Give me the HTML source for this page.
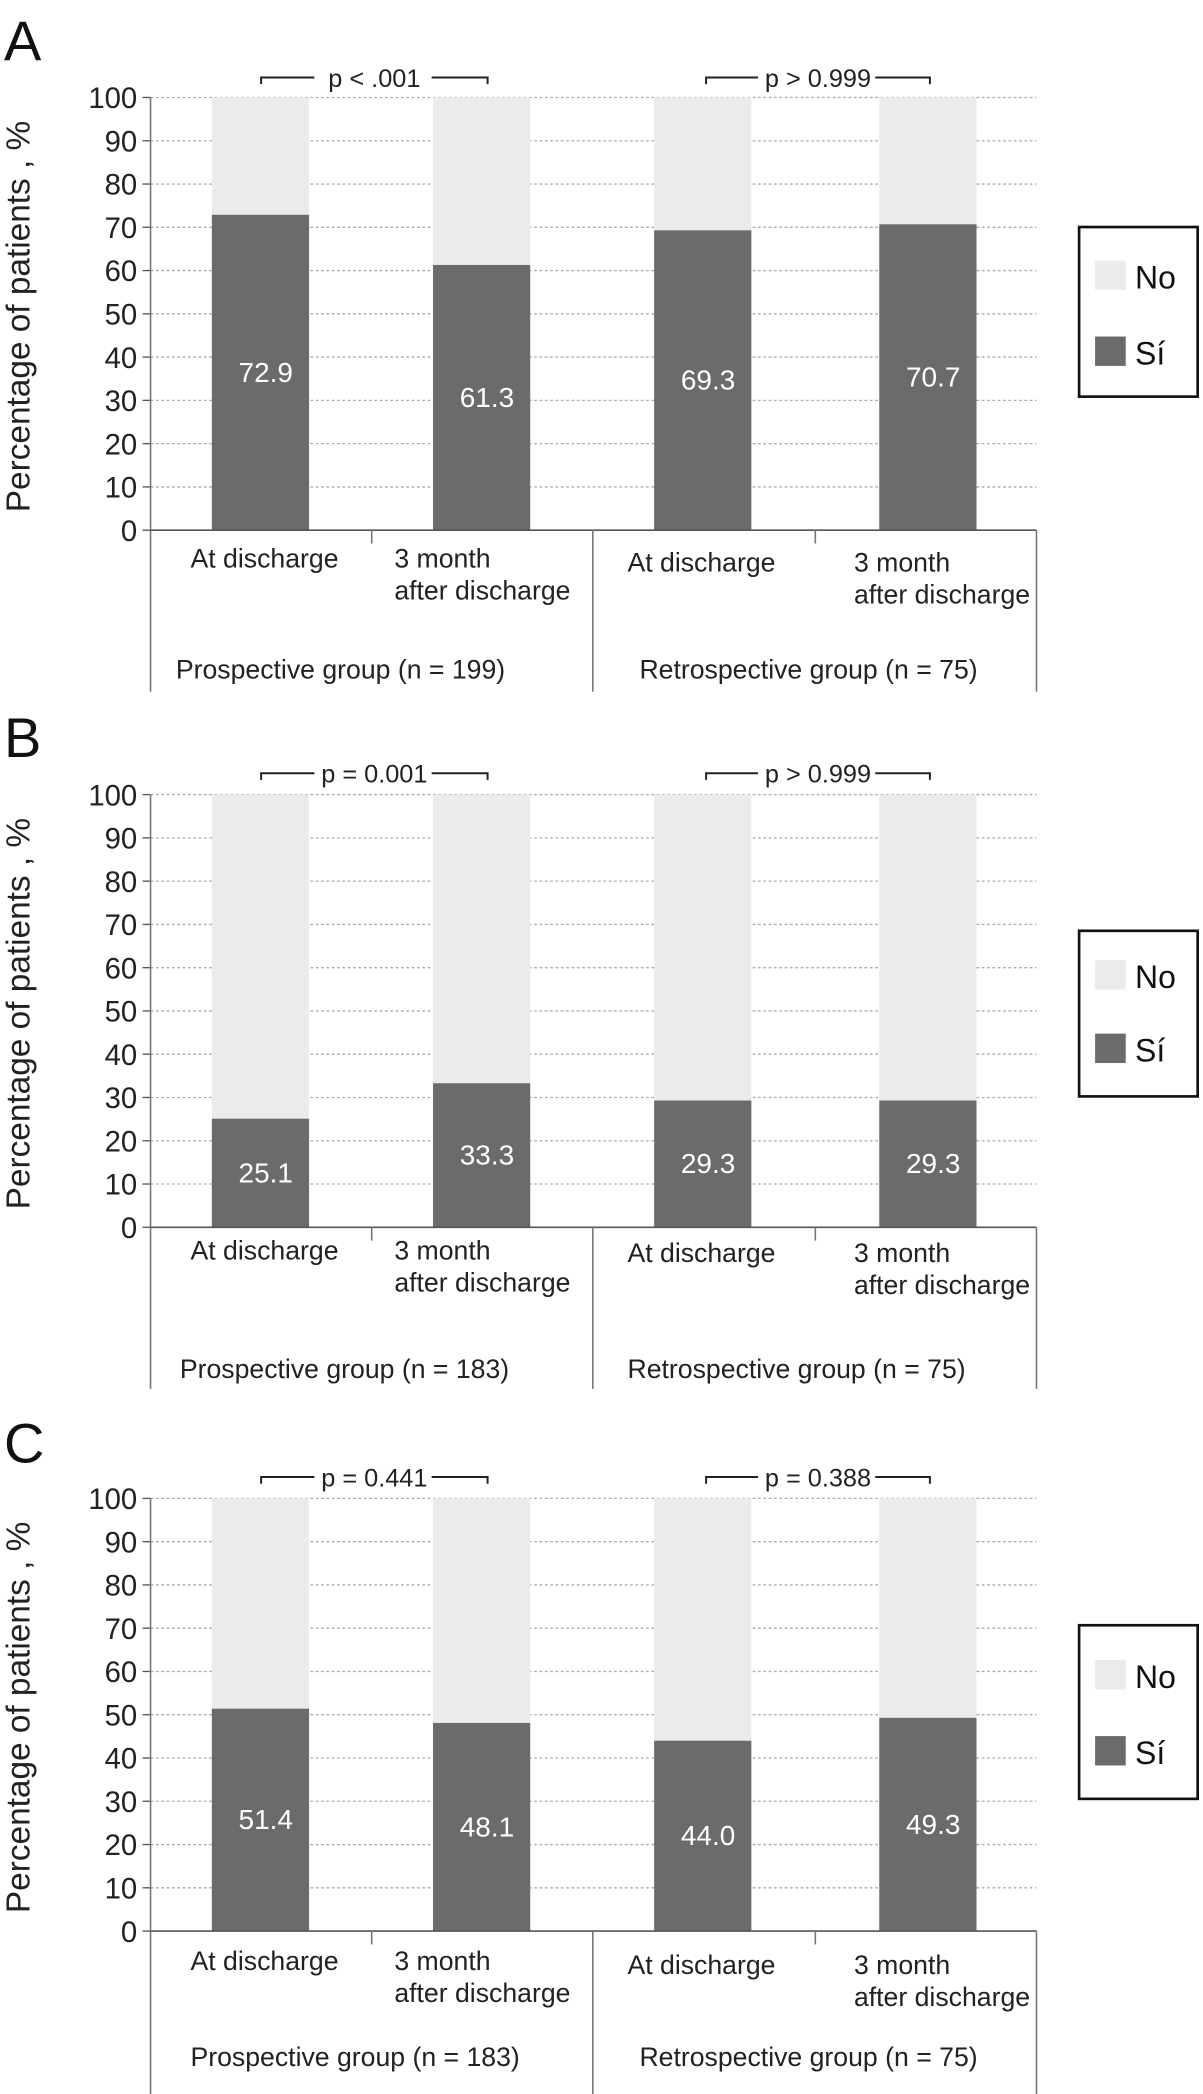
<!DOCTYPE html>
<html><head><meta charset="utf-8"><style>
html,body{margin:0;padding:0;background:#fff;}
svg{display:block;font-family:"Liberation Sans",sans-serif;}
</style></head><body>
<svg id="chart" width="1203" height="2094" viewBox="0 0 903 1568" preserveAspectRatio="none" xmlns="http://www.w3.org/2000/svg"></svg>
<script>
const categories = ["At discharge", "3 month|after discharge", "At discharge", "3 month|after discharge"];
const groupLabelsA = ["Prospective group (n = 199)", "Retrospective group (n = 75)"];
const groupLabelsB = ["Prospective group (n = 183)", "Retrospective group (n = 75)"];
const groupLabelsC = ["Prospective group (n = 183)", "Retrospective group (n = 75)"];
const valuesA = [72.9, 61.3, 69.3, 70.7];
const valuesB = [25.1, 33.3, 29.3, 29.3];
const valuesC = [51.4, 48.1, 44.0, 49.3];
const pValuesA = ["p < .001", "p > 0.999"];
const pValuesB = ["p = 0.001", "p > 0.999"];
const pValuesC = ["p = 0.441", "p = 0.388"];
const yTicks = [0, 10, 20, 30, 40, 50, 60, 70, 80, 90, 100];
const legendLabels = ["No", "Sí"];

const NS = "http://www.w3.org/2000/svg";
const svg = document.getElementById("chart");
function mk(tag, attrs, parent) {
  const e = document.createElementNS(NS, tag);
  for (const k in attrs) e.setAttribute(k, attrs[k]);
  (parent || svg).appendChild(e);
  return e;
}
function txt(s, attrs, parent) { const t = mk("text", attrs, parent); t.textContent = s; return t; }

const panels = [
  {letter:"A", vals:valuesA, groups:groupLabelsA, p:pValuesA, top:73, bottom:397, letterY:45, pY:58, catY:[418,418,421,421], groupY:501, frameBottom:518, legTop:170, legBot:297, sq:[195,252]},
  {letter:"B", vals:valuesB, groups:groupLabelsB, p:pValuesB, top:595, bottom:919, letterY:567, pY:579, catY:[936,936,938,938], groupY:1025, frameBottom:1040, legTop:697, legBot:821, sq:[719,774]},
  {letter:"C", vals:valuesC, groups:groupLabelsC, p:pValuesC, top:1122, bottom:1446, letterY:1095, pY:1106, catY:[1468,1468,1471,1471], groupY:1540, frameBottom:1568, legTop:1217, legBot:1347, sq:[1243,1300]}
];
const barX = [159, 325, 491, 660], barW = 73;
const axisX = 113, rightX = 778;
const catX = [[143,null],[296,null],[471,null],[641,null]];

panels.forEach((P, pi) => {
  const g = mk("g", {});
  
  
  const y = v => P.bottom - (v / 100) * (P.bottom - P.top);
  const l = txt(P.letter, {x:3, y:P.letterY, "font-size":42, fill:"#111"}, g);
  
  
  yTicks.forEach(t => {
    if (t > 0) {
      const gl = mk("line", {x1:axisX, x2:rightX, y1:y(t), y2:y(t), stroke:"#aaa", "stroke-width":1, "stroke-dasharray":"2,2"}, g);
      
      
    }
    mk("line", {x1:axisX-6, x2:axisX, y1:y(t), y2:y(t), stroke:"#555", "stroke-width":1}, g);
    const tl = txt(String(t), {x:axisX-10, y:y(t)+8, "font-size":22, "text-anchor":"end", fill:"#222"}, g);
    
    
  });
  const yt = txt("Percentage of patients , %", {x:0, y:0, "font-size":25, "text-anchor":"middle", fill:"#222", transform:`translate(22,${(P.top+P.bottom)/2 + 2}) rotate(-90)`}, g);
  
  
  P.vals.forEach((v, i) => {
    const nb = mk("rect", {x:barX[i], y:y(100), width:barW, height:y(v)-y(100), fill:"#ebebeb"}, g);
    
    
    const sb = mk("rect", {x:barX[i], y:y(v), width:barW, height:y(0)-y(v), fill:"#6b6b6b"}, g);
    
    
    const vl = txt(v.toFixed(1), {x:barX[i]+barW/2+4, y:y(v/2)+7, "font-size":21, "text-anchor":"middle", fill:"#fff"}, g);
    
    
    const parts = categories[i].split("|");
    parts.forEach((s, k) => {
      const cl = txt(s, {x:catX[i][0], y:P.catY[i]+7+k*24, "font-size":20, fill:"#222"}, g);
      
      
    });
  });
  mk("line", {x1:axisX, x2:axisX, y1:P.top, y2:P.frameBottom, stroke:"#777", "stroke-width":1.2}, g);
  mk("line", {x1:axisX, x2:rightX, y1:P.bottom, y2:P.bottom, stroke:"#555", "stroke-width":1.2}, g);
  mk("line", {x1:445, x2:445, y1:P.bottom, y2:P.frameBottom, stroke:"#777", "stroke-width":1.2}, g);
  mk("line", {x1:rightX, x2:rightX, y1:P.bottom, y2:P.frameBottom, stroke:"#777", "stroke-width":1.2}, g);
  [279, 612].forEach(x => mk("line", {x1:x, x2:x, y1:P.bottom, y2:P.bottom+10, stroke:"#777", "stroke-width":1.2}, g));
  const gx = [pi===0?132:(pi===1?135:143), pi===1?471:480];
  P.groups.forEach((s, k) => {
    const gl = txt(s, {x:gx[k], y:P.groupY+7, "font-size":20, fill:"#222"}, g);
    
    
  });
  [[196,366],[530,698]].forEach((r, k) => {
    const cx = (r[0]+r[1])/2;
    const br = mk("path", {d:`M${r[0]},${P.pY+5} V${P.pY} H${cx-45} M${cx+43},${P.pY} H${r[1]} V${P.pY+5}`, fill:"none", stroke:"#222", "stroke-width":1.5}, g);
    
    
    const pt = txt(P.p[k], {x:cx, y:P.pY+7, "font-size":19, "text-anchor":"middle", fill:"#222"}, g);
    
    
  });
  const lg = mk("g", {}, g);
  
  
  mk("rect", {x:810, y:P.legTop, width:89, height:P.legBot-P.legTop, fill:"#fff", stroke:"#111", "stroke-width":2}, lg);
  const cols = ["#ebebeb", "#6b6b6b"];
  legendLabels.forEach((s, k) => {
    const e = mk("rect", {x:822, y:P.sq[k], width:23, height:22, fill:cols[k]}, lg);
    
    
    const t = txt(s, {x:852, y:P.sq[k]+21, "font-size":24, fill:"#111"}, lg);
    
    
  });
});
</script>
</body></html>
